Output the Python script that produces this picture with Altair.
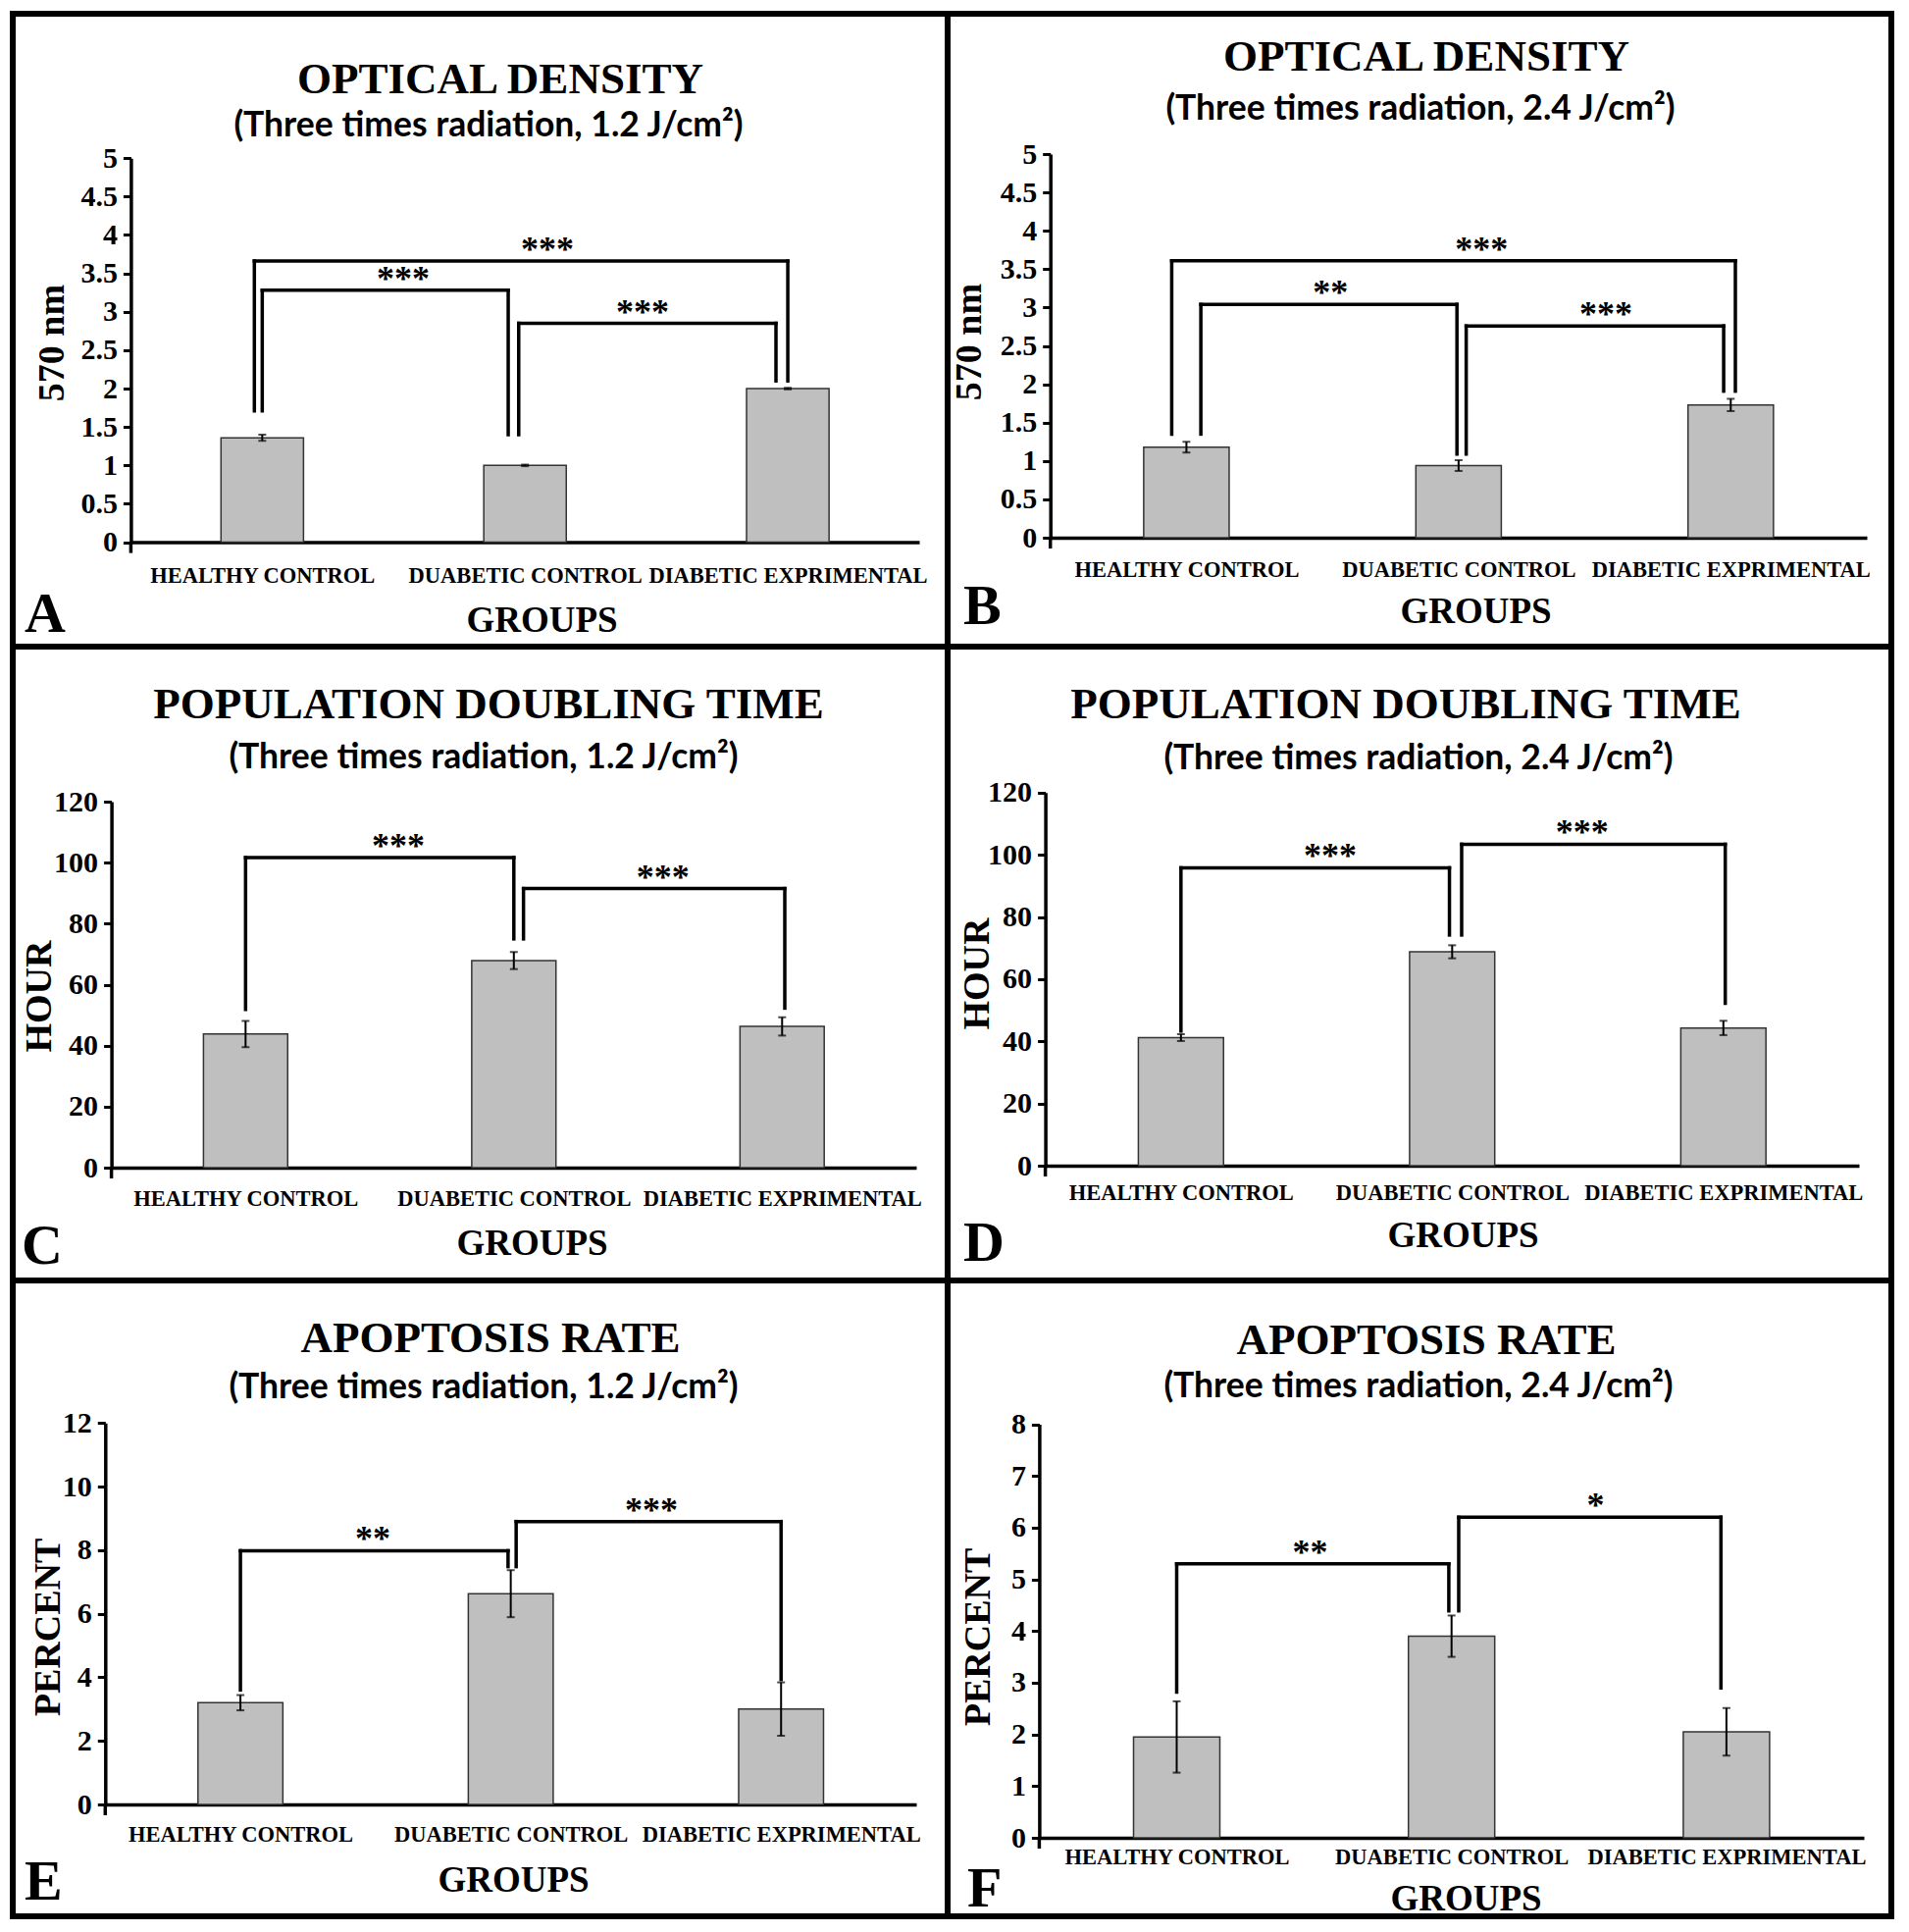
import altair as alt
import pandas as pd

groups = ["HEALTHY CONTROL", "DUABETIC CONTROL", "DIABETIC EXPRIMENTAL"]

# Optical density (570 nm)
od_12_mean = [1.36, 1.00, 2.00]
od_12_err = [0.04, 0.01, 0.01]
od_24_mean = [1.18, 0.94, 1.73]
od_24_err = [0.07, 0.07, 0.08]
# Population doubling time (hour)
pdt_12_mean = [43.8, 67.9, 46.3]
pdt_12_err = [4.3, 2.8, 3.0]
pdt_24_mean = [41.2, 68.8, 44.3]
pdt_24_err = [1.1, 2.1, 2.3]
# Apoptosis rate (percent)
apo_12_mean = [3.2, 6.63, 3.0]
apo_12_err = [0.24, 0.74, 0.84]
apo_24_mean = [1.95, 3.9, 2.05]
apo_24_err = [0.69, 0.40, 0.46]

# significance brackets: left x, right x, height, left leg end, right leg end, stars, stars x
sig_od_12 = [(-0.03, 2.0, 3.66, 1.71, 2.10, "***", 1.085),
             (0.0, 0.936, 3.28, 1.71, 1.40, "***", 0.536),
             (0.976, 1.955, 2.85, 1.40, 2.10, "***", 1.447)]
sig_od_24 = [(-0.054, 2.017, 3.61, 1.35, 1.91, "***", 1.084),
             (0.053, 0.994, 3.04, 1.35, 1.09, "**", 0.529),
             (1.028, 1.974, 2.76, 1.09, 1.91, "***", 1.541)]
sig_pdt_12 = [(0.0, 1.0, 101.7, 51.9, 75.0, "***", 0.569),
              (1.036, 2.01, 91.5, 75.0, 52.3, "***", 1.556)]
sig_pdt_24 = [(0.0, 0.99, 95.8, 43.3, 74.2, "***", 0.55),
              (1.035, 2.007, 103.4, 74.2, 52.2, "***", 1.479)]
sig_apo_12 = [(0.0, 0.99, 7.98, 3.6, 7.48, "**", 0.49),
              (1.02, 2.0, 8.9, 7.48, 3.93, "***", 1.52)]
sig_apo_24 = [(0.0, 0.99, 5.3, 2.82, 4.39, "**", 0.485),
              (1.026, 1.98, 6.2, 4.39, 2.9, "*", 1.524)]

ticks_od = [0, 0.5, 1, 1.5, 2, 2.5, 3, 3.5, 4, 4.5, 5]
ticks_pdt = [0, 20, 40, 60, 80, 100, 120]
ticks_apo_12 = [0, 2, 4, 6, 8, 10, 12]
ticks_apo_24 = [0, 1, 2, 3, 4, 5, 6, 7, 8]

SERIF = "Liberation Serif"
SANS = "Lato"
BAR_FILL = "#bfbfbf"
BAR_STROKE = "#333333"
HALF = 0.157

label_expr = "[" + ",".join("'" + s + "'" for s in groups) + "][datum.value]"

# layout of each panel (pixels inside the bordered panel)
layouts = {
    "A": dict(W=953, H=645, x0=120.4, x1=924, y0=538.6, y1=147.2, xlp=40.5, gx=539, gy=91,
              tx=-80, ty=335, t=(497, 81), s=(485, 125), l=(12, 630)),
    "B": dict(W=962, H=645, x0=104.7, x1=937, y0=534, y1=143, xlp=39, gx=538, gy=86,
              tx=-82, ty=334, t=(488, 58), s=(482, 108), l=(16, 622)),
    "C": dict(W=953, H=646, x0=100.6, x1=921, y0=531, y1=158, xlp=38, gx=529, gy=88,
              tx=-73, ty=356, t=(485, 73), s=(480, 124), l=(9, 629)),
    "D": dict(W=962, H=646, x0=99.6, x1=929, y0=529, y1=148.8, xlp=34, gx=525, gy=82,
              tx=-69, ty=333, t=(467, 73), s=(480, 125), l=(16, 626)),
    "E": dict(W=953, H=648, x0=94.3, x1=921, y0=534, y1=145.2, xlp=37.5, gx=510, gy=88,
              tx=-58, ty=353, t=(487, 73), s=(480, 120), l=(12, 631)),
    "F": dict(W=962, H=648, x0=93.4, x1=934, y0=568, y1=146.5, xlp=26, gx=528, gy=73,
              tx=-62, ty=363, t=(488, 75), s=(480, 119), l=(20, 638)),
}


def text_layer(text, pos, font, size, align="center"):
    return alt.Chart(pd.DataFrame({"t": [text]})).mark_text(
        font=font, fontSize=size, fontWeight="bold", align=align,
        baseline="alphabetic", color="black"
    ).encode(text="t:N", x=alt.value(pos[0]), y=alt.value(pos[1]))


def panel(key, title, subtitle, ytitle, mean, err, sig, yticks):
    g = layouts[key]
    xs = alt.Scale(domain=[-0.5, 2.5], range=[g["x0"], g["x1"]], nice=False, zero=False)
    ys = alt.Scale(domain=[yticks[0], yticks[-1]], range=[g["y0"], g["y1"]], nice=False)
    xaxis = alt.Axis(values=[0, 1, 2], labelExpr=label_expr, ticks=False, tickSize=0, grid=False,
                     domainColor="black", domainWidth=3.5, labelFont=SERIF, labelFontWeight="bold",
                     labelFontSize=22.5, labelColor="black", labelBaseline="alphabetic",
                     labelPadding=g["xlp"], labelFlush=False, labelOverlap=False, labelLimit=0,
                     title="GROUPS", titleFont=SERIF, titleFontWeight="bold", titleFontSize=37,
                     titleColor="black", titleX=g["gx"], titleY=g["gy"], titleBaseline="alphabetic",
                     titleAlign="center", offset=g["y0"] - g["H"])
    yaxis = alt.Axis(values=yticks, format="~g", grid=False, domainColor="black", domainWidth=3.5,
                     tickColor="black", tickWidth=3, tickSize=8, labelPadding=6, labelFont=SERIF,
                     labelFontSize=30, labelFontWeight="bold", labelColor="black",
                     labelFlush=False, labelOverlap=False, labelLimit=0,
                     title=ytitle, titleFont=SERIF, titleFontSize=38, titleFontWeight="bold",
                     titleColor="black", titleX=g["tx"], titleY=g["ty"], titleBaseline="middle",
                     titleAlign="center", titleAngle=270, offset=-g["x0"])

    df = pd.DataFrame({"idx": [0, 1, 2], "mean": mean, "err": err, "group": groups})
    df["x1"] = df["idx"] - HALF
    df["x2"] = df["idx"] + HALF
    df["lo"] = df["mean"] - df["err"]
    df["hi"] = df["mean"] + df["err"]
    base = alt.Chart(df)

    bars = base.mark_bar(fill=BAR_FILL, stroke=BAR_STROKE, strokeWidth=1.5).encode(
        x=alt.X("x1:Q", scale=xs, axis=xaxis), x2="x2:Q",
        y=alt.Y("mean:Q", scale=ys, axis=yaxis), y2=alt.datum(0))
    ebar = base.mark_rule(color="black", strokeWidth=2).encode(
        x=alt.X("idx:Q", scale=xs),
        y=alt.Y("lo:Q", scale=ys), y2="hi:Q")
    cap_lo = base.mark_tick(orient="horizontal", size=8, thickness=2, color="black").encode(
        x=alt.X("idx:Q", scale=xs), y=alt.Y("lo:Q", scale=ys))
    cap_hi = base.mark_tick(orient="horizontal", size=8, thickness=2, color="black").encode(
        x=alt.X("idx:Q", scale=xs), y=alt.Y("hi:Q", scale=ys))
    # short extension of the value axis below the baseline (Excel style)
    stub = alt.Chart(pd.DataFrame({"v": [0]})).mark_rule(color="black", strokeWidth=3.5).encode(
        x=alt.datum(-0.5, scale=xs), y=alt.datum(0, scale=ys), y2=alt.value(g["y0"] + 11))

    sdf = pd.DataFrame(sig, columns=["bx1", "bx2", "top", "lend", "rend", "stars", "sx"])
    sb = alt.Chart(sdf)
    rule_kw = dict(color="black", strokeWidth=3.5, strokeCap="square")
    horiz = sb.mark_rule(**rule_kw).encode(
        x=alt.X("bx1:Q", scale=xs), x2="bx2:Q", y=alt.Y("top:Q", scale=ys))
    lleg = sb.mark_rule(**rule_kw).encode(
        x=alt.X("bx1:Q", scale=xs), y=alt.Y("top:Q", scale=ys), y2="lend:Q")
    rleg = sb.mark_rule(**rule_kw).encode(
        x=alt.X("bx2:Q", scale=xs), y=alt.Y("top:Q", scale=ys), y2="rend:Q")
    stars = sb.mark_text(font=SERIF, fontSize=36, fontWeight="bold", baseline="alphabetic",
                         align="center", dy=0, color="black").encode(
        x=alt.X("sx:Q", scale=xs), y=alt.Y("top:Q", scale=ys), text="stars:N")

    t1 = text_layer(title, g["t"], SERIF, 45)
    t2 = text_layer(subtitle, g["s"], SANS, 35.5)
    t3 = text_layer(key, g["l"], SERIF, 58, align="left")

    return alt.layer(bars, ebar, cap_lo, cap_hi, stub, horiz, lleg, rleg, stars, t1, t2, t3).properties(
        width=g["W"], height=g["H"])


sub12 = "(Three times radiation, 1.2 J/cm\u00b2)"
sub24 = "(Three times radiation, 2.4 J/cm\u00b2)"

pA = panel("A", "OPTICAL DENSITY", sub12, "570 nm", od_12_mean, od_12_err, sig_od_12, ticks_od)
pB = panel("B", "OPTICAL DENSITY", sub24, "570 nm", od_24_mean, od_24_err, sig_od_24, ticks_od)
pC = panel("C", "POPULATION DOUBLING TIME", sub12, "HOUR", pdt_12_mean, pdt_12_err, sig_pdt_12, ticks_pdt)
pD = panel("D", "POPULATION DOUBLING TIME", sub24, "HOUR", pdt_24_mean, pdt_24_err, sig_pdt_24, ticks_pdt)
pE = panel("E", "APOPTOSIS RATE", sub12, "PERCENT", apo_12_mean, apo_12_err, sig_apo_12, ticks_apo_12)
pF = panel("F", "APOPTOSIS RATE", sub24, "PERCENT", apo_24_mean, apo_24_err, sig_apo_24, ticks_apo_24)

chart = alt.concat(pA, pB, pC, pD, pE, pF, columns=2, spacing=0, bounds="flush").configure_view(
    stroke="black", strokeWidth=6
).properties(
    padding={"left": 2, "top": 3, "right": 2, "bottom": 2}, background="white"
)

chart.save("out.html", embed_options={"renderer": "svg", "actions": False})
